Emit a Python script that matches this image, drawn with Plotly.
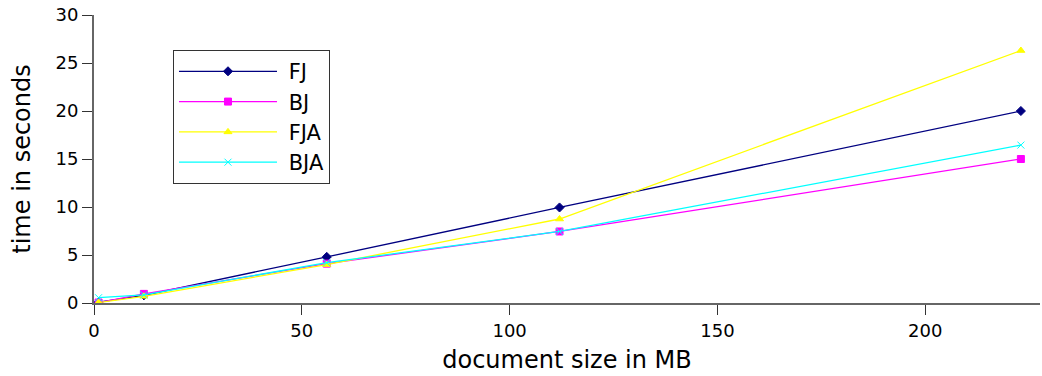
import plotly.graph_objects as go

# document sizes (MB) and run times (s)
sizes = [1.1, 12, 56, 112, 223]
fj = [0.1, 0.8, 4.8, 9.95, 20.0]
bj = [0.05, 0.95, 4.1, 7.45, 15.0]
fja = [0.05, 0.7, 4.0, 8.75, 26.3]
bja = [0.55, 0.85, 4.2, 7.45, 16.45]

series = [
    ('FJ', fj, '#000080', 'diamond'),
    ('BJ', bj, '#ff00ff', 'square'),
    ('FJA', fja, '#ffff00', 'triangle-up'),
    ('BJA', bja, '#00ffff', 'x-thin-open'),
]

fig = go.Figure()
for name, vals, color, symbol in series:
    fig.add_trace(
        go.Scatter(
            x=sizes,
            y=vals,
            mode='lines+markers',
            name='\u00a0' + name,  # small gap between legend line and text
            line=dict(color=color, width=1.3),
            marker=dict(symbol=symbol, size=7, color=color,
                        line=dict(color=color, width=1)),
        )
    )

axis_style = dict(
    showgrid=False,
    showline=True,
    linecolor='#666666',
    linewidth=2,
    zeroline=False,
    ticks='outside',
    ticklen=10,
    tickcolor='#333333',
    tickfont=dict(size=18, color='black'),
    ticklabeloverflow='allow',
    automargin=False,
)

fig.update_layout(
    width=1042,
    height=376,
    margin=dict(l=94, r=2, t=15, b=73),
    plot_bgcolor='white',
    paper_bgcolor='white',
    font=dict(family='DejaVu Sans', color='black'),
    legend=dict(
        x=0.0835, y=0.878, xanchor='left', yanchor='top',
        bordercolor='#333333', borderwidth=1,
        font=dict(size=21),
        itemwidth=98,
        entrywidth=60,
        tracegroupgap=0,
    ),
    xaxis=dict(range=[0, 227.6], dtick=50, title=dict(text='document size in MB', font=dict(size=24), standoff=12), **axis_style),
    yaxis=dict(range=[0, 30], dtick=5, title=dict(text='time in seconds', font=dict(size=24), standoff=18), **axis_style),
)

# drop the default 8px page margin so the figure fills the window
fig.write_html("out.html", config={'displayModeBar': False},
               post_script="document.body.style.margin='0';")
